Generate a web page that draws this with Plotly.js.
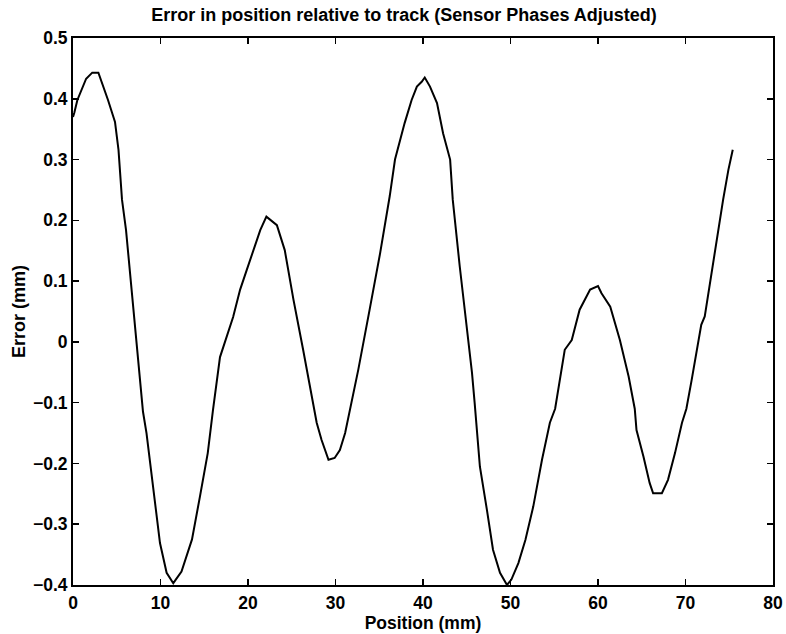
<!DOCTYPE html>
<html><head><meta charset="utf-8">
<script src="https://cdn.plot.ly/plotly-3.0.1.min.js"></script>
<style>body{margin:0;background:#fff}#plot{width:786px;height:634px}</style>
</head><body><div id="plot"></div>
<script>
const positionMm = [0, 0.15, 0.5, 1.5, 2.2, 2.9, 4.0, 4.8, 5.2, 5.6, 6.06, 6.9, 7.5, 8.0, 8.4, 9.0, 9.37, 9.94, 10.7, 11.46, 12.4, 13.6, 14.5, 15.4, 16.0, 16.8, 18.3, 19.1, 19.85, 21.4, 22.1, 23.3, 24.2, 25.2, 26.3, 27.5, 27.85, 28.4, 29.2, 29.9, 30.5, 31.1, 31.7, 32.6, 33.9, 35.1, 36.2, 36.8, 37.9, 38.7, 39.3, 39.85, 40.2, 40.8, 41.6, 42.3, 43.1, 43.4, 44.2, 45.0, 45.6, 45.9, 46.5, 47.3, 48.0, 48.8, 49.6, 50.1, 50.9, 51.7, 52.6, 53.6, 54.5, 55.1, 55.7, 56.2, 57.0, 57.9, 59.1, 60.0, 60.4, 61.4, 62.5, 63.5, 64.2, 64.4, 65.2, 65.9, 66.3, 67.3, 68.0, 68.8, 69.6, 70.1, 70.7, 71.5, 71.8, 72.2, 73.2, 74.0, 74.3, 74.9, 75.4];
const errorMm = [0.37, 0.377, 0.398, 0.433, 0.443, 0.443, 0.398, 0.362, 0.316, 0.234, 0.184, 0.053, -0.03, -0.115, -0.15, -0.222, -0.271, -0.331, -0.38, -0.397, -0.378, -0.325, -0.255, -0.183, -0.112, -0.025, 0.041, 0.086, 0.118, 0.184, 0.206, 0.192, 0.151, 0.069, -0.013, -0.103, -0.133, -0.161, -0.194, -0.191, -0.178, -0.15, -0.11, -0.046, 0.053, 0.146, 0.24, 0.3, 0.36, 0.398, 0.42, 0.428, 0.435, 0.42, 0.393, 0.343, 0.3, 0.234, 0.124, 0.025, -0.051, -0.1, -0.205, -0.276, -0.342, -0.38, -0.4, -0.391, -0.364, -0.326, -0.271, -0.194, -0.133, -0.11, -0.057, -0.013, 0.003, 0.053, 0.086, 0.092, 0.08, 0.058, 0.003, -0.057, -0.11, -0.145, -0.189, -0.232, -0.249, -0.249, -0.227, -0.183, -0.133, -0.11, -0.063, 0.003, 0.028, 0.042, 0.135, 0.206, 0.234, 0.283, 0.316];
const xTicks = [0, 10, 20, 30, 40, 50, 60, 70, 80];
const yTicks = [-0.4, -0.3, -0.2, -0.1, 0, 0.1, 0.2, 0.3, 0.4, 0.5];
const yTickLabels = ['\u22120.4', '\u22120.3', '\u22120.2', '\u22120.1', '0', '0.1', '0.2', '0.3', '0.4', '0.5'];

const fam = 'Liberation Sans, Arial, sans-serif';
const axisBase = {
  showgrid: false, zeroline: false, showline: true, mirror: 'ticks',
  linecolor: '#000', linewidth: 2, ticks: 'inside', ticklen: 6, tickwidth: 1.5,
  tickcolor: '#000', tickfont: {family: fam, size: 17.5, color: '#000', weight: 'bold'}
};
const trace = {x: positionMm, y: errorMm, mode: 'lines', type: 'scatter',
  line: {color: '#000', width: 2}, hoverinfo: 'skip'};
const layout = {
  width: 786, height: 634,
  margin: {l: 73, r: 13, t: 38, b: 49},
  paper_bgcolor: '#fff', plot_bgcolor: '#fff',
  showlegend: false,
  title: {text: 'Error in position relative to track (Sensor Phases Adjusted)',
    font: {family: fam, size: 18, color: '#000', weight: 'bold'},
    x: 404/786, xref: 'container', xanchor: 'center', y: 1 - 15/634, yref: 'container', yanchor: 'middle'},
  xaxis: Object.assign({}, axisBase, {range: [0, 80], tickvals: xTicks, ticklabelstandoff: 1,
    title: {text: 'Position (mm)', standoff: 0, font: {family: fam, size: 17.5, color: '#000', weight: 'bold'}}}),
  yaxis: Object.assign({}, axisBase, {range: [-0.4, 0.5], tickvals: yTicks, ticktext: yTickLabels,
    title: {text: 'Error (mm)', standoff: 3, font: {family: fam, size: 18, color: '#000', weight: 'bold'}}})
};
Plotly.newPlot('plot', [trace], layout, {displayModeBar: false, staticPlot: true});
</script></body></html>
